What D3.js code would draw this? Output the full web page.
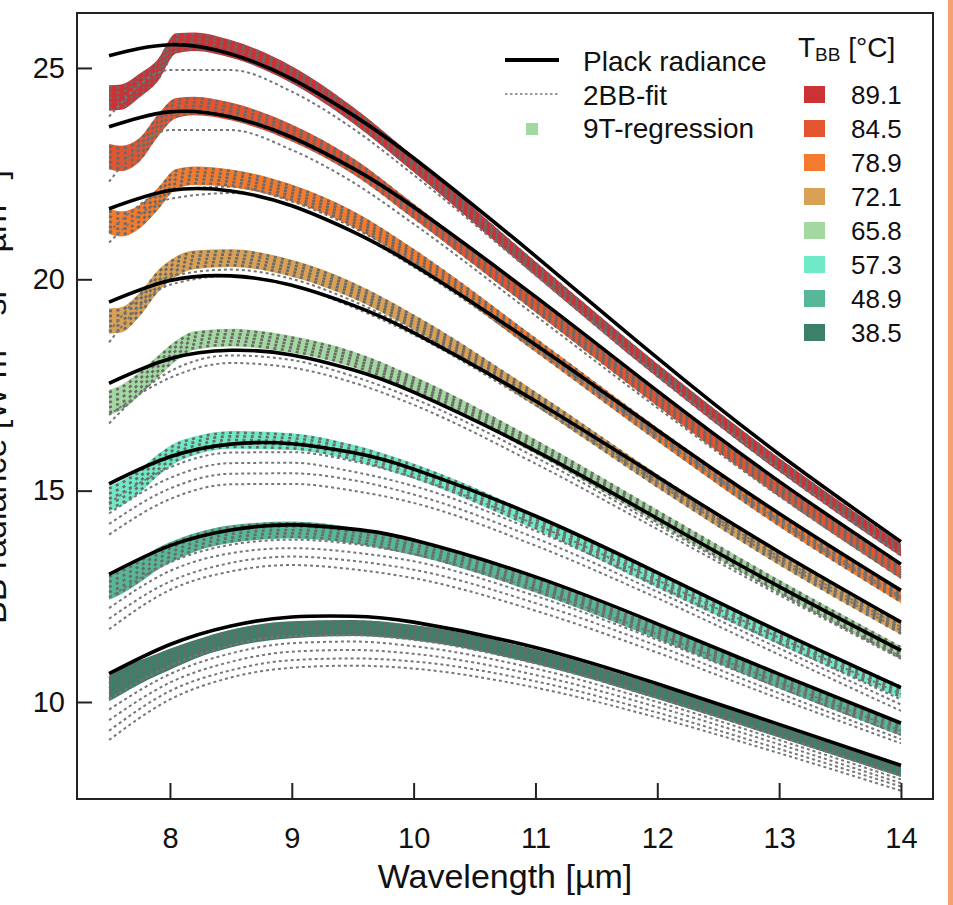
<!DOCTYPE html>
<html>
<head>
<meta charset="utf-8">
<script src="https://cdn.jsdelivr.net/npm/d3@7"></script>
<style>
  body { margin: 0; background: #fff; }
  svg { display: block; font-family: "Liberation Sans", Arial, Helvetica, sans-serif; }
</style>
</head>
<body>
<div id="chart"></div>
<script>
// blackbody temperatures and legend colours
const temps = ["89.1", "84.5", "78.9", "72.1", "65.8", "57.3", "48.9", "38.5"];
const tempColors = ["#cc3134", "#e25530", "#f47b2e", "#d9a156", "#a4d8a1", "#6fe9c6", "#56b898", "#3b8069"];

// Planck radiance (black curves)
const wavelengths = [7.5, 8, 8.5, 9, 9.5, 10, 11, 12, 13, 14];
const planck = [
  [25.29, 25.55, 25.33, 24.74, 23.89, 22.87, 20.55, 18.14, 15.86, 13.79],
  [23.61, 23.96, 23.84, 23.36, 22.63, 21.71, 19.59, 17.36, 15.22, 13.26],
  [21.67, 22.10, 22.09, 21.74, 21.13, 20.34, 18.45, 16.43, 14.46, 12.64],
  [19.46, 19.97, 20.08, 19.86, 19.39, 18.74, 17.12, 15.33, 13.55, 11.89],
  [17.54, 18.12, 18.32, 18.21, 17.86, 17.33, 15.94, 14.34, 12.73, 11.22],
  [15.16, 15.80, 16.10, 16.11, 15.90, 15.51, 14.40, 13.06, 11.67, 10.34],
  [13.02, 13.70, 14.07, 14.19, 14.09, 13.83, 12.96, 11.85, 10.66, 9.50],
  [10.67, 11.36, 11.80, 12.01, 12.03, 11.89, 11.29, 10.43, 9.47, 8.50]
];

// 9T-regression band (centre and half width)
const bandWavelengths = [7.5, 7.6, 7.75, 7.9, 8.05, 8.2, 8.5, 9, 9.5, 10, 11, 12, 13, 14];
const bandCenter = [
  [24.29, 24.31, 24.58, 24.94, 25.58, 25.62, 25.45, 24.84, 23.89, 22.72, 20.25, 17.84, 15.61, 13.59],
  [22.90, 22.86, 23.06, 23.63, 24.05, 24.10, 23.97, 23.46, 22.68, 21.61, 19.39, 17.16, 15.02, 13.06],
  [21.37, 21.31, 21.48, 21.90, 22.37, 22.45, 22.39, 22.04, 21.43, 20.54, 18.45, 16.33, 14.31, 12.49],
  [19.01, 19.04, 19.40, 19.95, 20.30, 20.46, 20.50, 20.26, 19.74, 18.99, 17.17, 15.23, 13.40, 11.74],
  [17.09, 17.20, 17.53, 17.93, 18.31, 18.55, 18.62, 18.46, 18.11, 17.53, 16.04, 14.39, 12.73, 11.17],
  [14.81, 14.94, 15.22, 15.60, 15.90, 16.06, 16.20, 16.16, 15.90, 15.46, 14.25, 12.86, 11.52, 10.24],
  [12.72, 12.85, 13.10, 13.39, 13.60, 13.77, 13.97, 14.07, 13.94, 13.65, 12.76, 11.65, 10.48, 9.35],
  [10.32, 10.48, 10.70, 10.89, 11.07, 11.24, 11.50, 11.71, 11.75, 11.64, 11.07, 10.23, 9.32, 8.38]
];
const bandHalfWidth = [0.30, 0.30, 0.28, 0.26, 0.24, 0.22, 0.21, 0.20, 0.19, 0.18, 0.17, 0.16, 0.16, 0.15];

// 2BB-fit curves lying apart from the band, as deviation from Planck radiance (same wavelengths)
const fitDeviation = [
  [[-1.44, -0.60, -0.38, -0.30, -0.32, -0.40, -0.45, -0.40, -0.35, -0.30]],
  [[-1.30, -0.43, -0.31, -0.30, -0.33, -0.40, -0.45, -0.40, -0.35, -0.30]],
  [[-0.80, -0.20, -0.05, 0.00, 0.00, -0.05, -0.10, -0.15, -0.20, -0.20],
   [-0.55, 0.00, 0.10, 0.10, 0.10, 0.05, -0.05, -0.10, -0.15, -0.15]],
  [[-0.95, -0.10, 0.00, 0.00, -0.05, -0.05, -0.10, -0.15, -0.20, -0.20],
   [-0.70, 0.10, 0.15, 0.15, 0.10, 0.05, -0.02, -0.08, -0.12, -0.12]],
  [[-0.95, -0.30, -0.12, -0.12, -0.15, -0.15, -0.15, -0.15, -0.15, -0.15],
   [-0.75, -0.45, -0.30, -0.30, -0.30, -0.30, -0.30, -0.25, -0.20, -0.20]],
  [[-0.45, -0.25, -0.20, -0.20, -0.20, -0.20, -0.20, -0.18, -0.15, -0.15],
   [-0.70, -0.50, -0.45, -0.45, -0.45, -0.40, -0.35, -0.30, -0.28, -0.28],
   [-0.95, -0.75, -0.70, -0.70, -0.65, -0.60, -0.52, -0.45, -0.40, -0.40],
   [-1.20, -1.00, -0.95, -0.95, -0.90, -0.80, -0.70, -0.60, -0.55, -0.55]],
  [[-0.55, -0.40, -0.35, -0.35, -0.35, -0.33, -0.30, -0.25, -0.20, -0.18],
   [-0.80, -0.60, -0.55, -0.55, -0.55, -0.50, -0.45, -0.38, -0.32, -0.28],
   [-1.05, -0.85, -0.78, -0.75, -0.75, -0.70, -0.62, -0.52, -0.45, -0.38],
   [-1.30, -1.05, -0.98, -0.95, -0.95, -0.90, -0.80, -0.68, -0.58, -0.48]],
  [[-0.60, -0.50, -0.45, -0.45, -0.45, -0.42, -0.38, -0.33, -0.28, -0.25],
   [-0.85, -0.70, -0.65, -0.62, -0.60, -0.57, -0.50, -0.43, -0.37, -0.33],
   [-1.10, -0.90, -0.85, -0.82, -0.80, -0.75, -0.65, -0.55, -0.47, -0.42],
   [-1.35, -1.10, -1.05, -1.02, -1.00, -0.93, -0.80, -0.68, -0.58, -0.50],
   [-1.57, -1.30, -1.22, -1.20, -1.17, -1.10, -0.95, -0.80, -0.68, -0.60]]
];

const xTicks = [8, 9, 10, 11, 12, 13, 14];
const yTicks = [10, 15, 20, 25];
const legendItems = ["Plack radiance", "2BB-fit", "9T-regression"];

const width = 953, height = 905;
const margin = {top: 13, right: 20, bottom: 106, left: 77};
const plotRight = 933;

const svg = d3.select("#chart").append("svg")
    .attr("width", width)
    .attr("height", height);

const x = d3.scaleLinear()
    .domain([7.237, 14.263])
    .range([margin.left, plotRight]);

const y = d3.scaleLinear()
    .domain([7.705, 26.30])
    .range([height - margin.bottom, margin.top]);

const line = d3.line()
    .x(d => x(d[0]))
    .y(d => y(d[1]))
    .curve(d3.curveMonotoneX);

const smoothLine = d3.line()
    .x(d => x(d[0]))
    .y(d => y(d[1]))
    .curve(d3.curveNatural);

const bandArea = d3.area()
    .x(d => x(d[0]))
    .y0(d => y(d[1] - d[2]))
    .y1(d => y(d[1] + d[2]))
    .curve(d3.curveMonotoneX);

// orange strip at the right edge
svg.append("rect")
    .attr("x", 948).attr("y", 0)
    .attr("width", 5).attr("height", height)
    .attr("fill", "#f5a26f");

const plot = svg.append("g");

// 9T-regression bands
temps.forEach((t, i) => {
  const pts = bandWavelengths.map((w, j) => [w, bandCenter[i][j], bandHalfWidth[j]]);
  plot.append("path")
      .attr("d", bandArea(pts))
      .attr("fill", tempColors[i]);
});

// 2BB-fit lines packed on the bands (stacked dashes give the ladder look)
temps.forEach((t, i) => {
  [-0.8, -0.4, 0, 0.4, 0.8].forEach(k => {
    const pts = bandWavelengths.map((w, j) => [w, bandCenter[i][j] + k * bandHalfWidth[j]]);
    plot.append("path")
        .attr("d", line(pts))
        .attr("fill", "none")
        .attr("stroke", "#6a6a6a")
        .attr("stroke-width", 2.6)
        .attr("stroke-dasharray", "3,4.5");
  });
});

// 2BB-fit lines apart from the bands
temps.forEach((t, i) => {
  fitDeviation[i].forEach(dev => {
    const pts = wavelengths.map((w, j) => [w, planck[i][j] + dev[j]]);
    plot.append("path")
        .attr("d", line(pts))
        .attr("fill", "none")
        .attr("stroke", "#777")
        .attr("stroke-width", 2)
        .attr("stroke-dasharray", "3,3");
  });
});

// Planck radiance
temps.forEach((t, i) => {
  const pts = wavelengths.map((w, j) => [w, planck[i][j]]);
  plot.append("path")
      .attr("d", smoothLine(pts))
      .attr("fill", "none")
      .attr("stroke", "#000")
      .attr("stroke-width", 3.6);
});

// frame
svg.append("rect")
    .attr("x", margin.left).attr("y", margin.top)
    .attr("width", plotRight - margin.left)
    .attr("height", height - margin.bottom - margin.top)
    .attr("fill", "none")
    .attr("stroke", "#222")
    .attr("stroke-width", 2);

const xAxis = g => g
    .attr("transform", `translate(0,${height - margin.bottom})`)
    .style("font-size", "29px")
    .style("font-family", "inherit")
    .call(d3.axisBottom(x).tickValues(xTicks).tickFormat(d3.format("d")).tickSize(-16).tickPadding(28))
    .call(g => g.select(".domain").remove())
    .call(g => g.selectAll(".tick line").attr("stroke", "#222").attr("stroke-width", 2))
    .call(g => g.selectAll(".tick text").attr("fill", "#111"));

const yAxis = g => g
    .attr("transform", `translate(${margin.left},0)`)
    .style("font-size", "29px")
    .style("font-family", "inherit")
    .call(d3.axisLeft(y).tickValues(yTicks).tickFormat(d3.format("d")).tickSize(-15).tickPadding(12))
    .call(g => g.select(".domain").remove())
    .call(g => g.selectAll(".tick line").attr("stroke", "#222").attr("stroke-width", 2))
    .call(g => g.selectAll(".tick text").attr("fill", "#111"));

svg.append("g").call(xAxis);
svg.append("g").call(yAxis);

// axis titles (the y title is cropped at the left edge, as in the source figure)
svg.append("text")
    .attr("x", 505).attr("y", 888)
    .attr("text-anchor", "middle")
    .attr("font-size", 34)
    .attr("fill", "#111")
    .text("Wavelength [\u00b5m]");

const yTitle = svg.append("text")
    .attr("transform", "translate(6,397) rotate(-90)")
    .attr("text-anchor", "middle")
    .attr("font-size", 34)
    .attr("fill", "#111");
yTitle.append("tspan").text("BB radiance [W m");
yTitle.append("tspan").attr("dy", -12).attr("font-size", 22).text("\u22122");
yTitle.append("tspan").attr("dy", 12).text(" sr");
yTitle.append("tspan").attr("dy", -12).attr("font-size", 22).text("\u22121");
yTitle.append("tspan").attr("dy", 12).text(" \u00b5m");
yTitle.append("tspan").attr("dy", -12).attr("font-size", 22).text("\u22121");
yTitle.append("tspan").attr("dy", 12).text("]");

// legend: line types
const leg = svg.append("g").attr("font-size", 28).attr("fill", "#111");
leg.append("line")
    .attr("x1", 505).attr("x2", 559).attr("y1", 60).attr("y2", 60)
    .attr("stroke", "#000").attr("stroke-width", 4);
leg.append("line")
    .attr("x1", 505).attr("x2", 559).attr("y1", 94).attr("y2", 94)
    .attr("stroke", "#7a7a7a").attr("stroke-width", 1.6).attr("stroke-dasharray", "2.5,2.5");
leg.append("rect")
    .attr("x", 526).attr("y", 123).attr("width", 12).attr("height", 12)
    .attr("fill", tempColors[4]);
leg.selectAll("text.item")
    .data(legendItems)
    .enter().append("text")
      .attr("class", "item")
      .attr("x", 583)
      .attr("y", (d, i) => 71 + i * 33.5)
      .text(d => d);

// legend: temperatures
const tleg = svg.append("g").attr("fill", "#111");
const tTitle = tleg.append("text").attr("x", 798).attr("y", 57).attr("font-size", 28);
tTitle.append("tspan").text("T");
tTitle.append("tspan").attr("dy", 4).attr("font-size", 19).text("BB");
tTitle.append("tspan").attr("dy", -4).text(" [\u00b0C]");

tleg.selectAll("rect")
    .data(temps)
    .enter().append("rect")
      .attr("x", 804)
      .attr("y", (d, i) => 86 + i * 34)
      .attr("width", 21)
      .attr("height", 17)
      .attr("fill", (d, i) => tempColors[i]);

tleg.selectAll("text.temp")
    .data(temps)
    .enter().append("text")
      .attr("class", "temp")
      .attr("x", 851)
      .attr("y", (d, i) => 104 + i * 34)
      .attr("font-size", 26)
      .text(d => d);
</script>
</body>
</html>
